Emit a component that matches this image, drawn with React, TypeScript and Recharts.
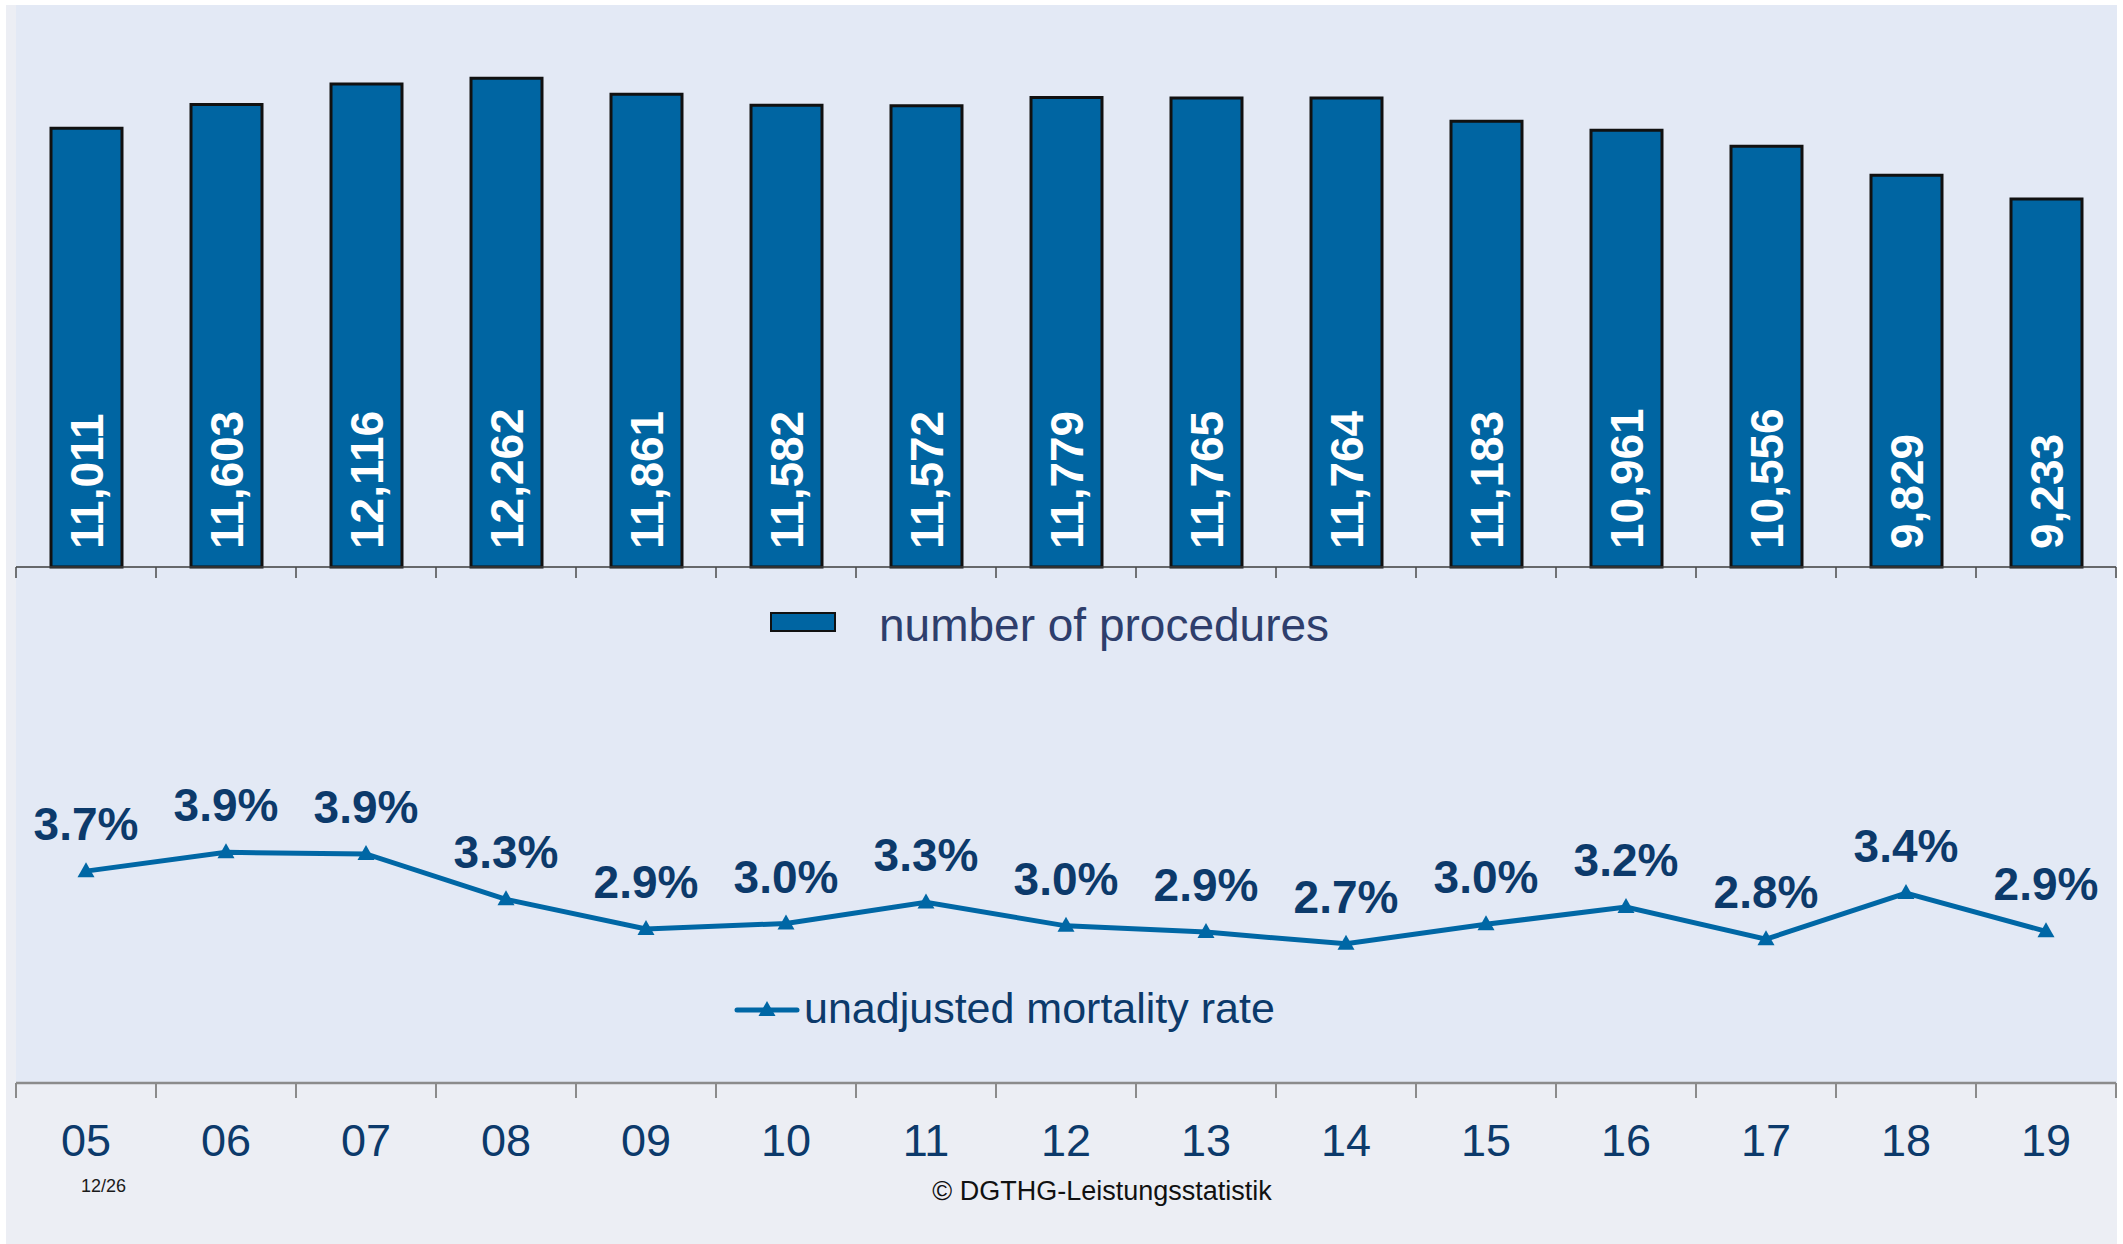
import React from 'react';
import { BarChart, Bar, LineChart, Line, XAxis, YAxis, LabelList, Legend } from 'recharts';

const years = ['05', '06', '07', '08', '09', '10', '11', '12', '13', '14', '15', '16', '17', '18', '19'];
const procedures = [11011, 11603, 12116, 12262, 11861, 11582, 11572, 11779, 11765, 11764, 11183, 10961, 10556, 9829, 9233];
const mortality = [3.66, 3.9, 3.88, 3.3, 2.92, 2.99, 3.26, 2.96, 2.88, 2.73, 2.98, 3.2, 2.79, 3.38, 2.89];

const chartData = years.map((year, i) => ({ year, procedures: procedures[i], mortality: mortality[i] }));

const W = 2123;
const LEFT = 16;
const RIGHT = 7;
const BAND = (W - LEFT - RIGHT) / years.length;
const FONT = '"Liberation Sans", Arial, sans-serif';
const BAR_BLUE = '#0065a2';
const LINE_BLUE = '#0067a5';
const NAVY = '#0c3a6b';

function BoundaryTick(props: any) {
  const { x, y, index, payload, len, color, width, showLabel } = props;
  const axisY = y - len;
  return (
    <g>
      <line x1={x - BAND / 2} x2={x - BAND / 2} y1={axisY} y2={axisY + len} stroke={color} strokeWidth={width} />
      {index === years.length - 1 && (
        <line x1={x + BAND / 2} x2={x + BAND / 2} y1={axisY} y2={axisY + len} stroke={color} strokeWidth={width} />
      )}
      {showLabel && (
        <text x={x} y={axisY + 73} textAnchor="middle" fontSize={45} fill={NAVY} fontFamily={FONT}>
          {payload.value}
        </text>
      )}
    </g>
  );
}

function TriangleDot(props: any) {
  const { cx, cy, index } = props;
  return <path key={`tri-${index}`} d={`M${cx},${cy - 9} L${cx + 8.5},${cy + 6} L${cx - 8.5},${cy + 6} Z`} fill={LINE_BLUE} />;
}

function BarValue(props: any) {
  const { x, y, width, height, value } = props;
  const tx = x + width / 2 + 16;
  const ty = y + height - 18;
  return (
    <text x={tx} y={ty} transform={`rotate(-90, ${tx}, ${ty})`} fill="#fff" fontSize={46} fontWeight="bold" fontFamily={FONT}>
      {Number(value).toLocaleString('en-US')}
    </text>
  );
}

function RateValue(props: any) {
  const { x, y, value } = props;
  return (
    <text x={x} y={y - 31} textAnchor="middle" fill={NAVY} fontSize={46} fontWeight="bold" fontFamily={FONT}>
      {`${Number(value).toFixed(1)}%`}
    </text>
  );
}

const ProceduresLegend = () => (
  <div style={{ position: 'relative', height: 50, width: W }}>
    <div style={{ position: 'absolute', left: 770, top: 12, width: 62, height: 16, border: '2px solid #111', background: BAR_BLUE }} />
    <span style={{ position: 'absolute', left: 879, top: 2, fontSize: 46, lineHeight: '46px', color: '#2e3e6c', fontFamily: FONT, whiteSpace: 'nowrap' }}>
      number of procedures
    </span>
  </div>
);

const RateLegend = () => (
  <div style={{ position: 'relative', height: 50, width: W }}>
    <svg style={{ position: 'absolute', left: 730, top: 0 }} width={80} height={50}>
      <line x1={7} x2={67} y1={30} y2={30} stroke={LINE_BLUE} strokeWidth={5} strokeLinecap="round" />
      <path d="M37,21 L45.5,36 L28.5,36 Z" fill={LINE_BLUE} />
    </svg>
    <span style={{ position: 'absolute', left: 804, top: 7, fontSize: 43, lineHeight: '43px', color: NAVY, fontFamily: FONT, whiteSpace: 'nowrap' }}>
      unadjusted mortality rate
    </span>
  </div>
);

export default function App() {
  return (
    <div style={{ position: 'absolute', left: 0, top: 0, width: W, height: 1244, background: '#fff', overflow: 'hidden' }}>
      <div style={{ position: 'absolute', left: 6, top: 5, width: 2111, height: 1239, background: '#eceef4' }} />
      <div style={{ position: 'absolute', left: 16, top: 5, width: 2101, height: 1078, background: '#e3e9f5' }} />

      <div style={{ position: 'absolute', left: 0, top: 0 }}>
        <BarChart width={W} height={660} data={chartData} margin={{ top: 9, right: RIGHT, left: LEFT, bottom: 73 }}>
          <XAxis
            dataKey="year"
            height={20}
            tickSize={11}
            tickMargin={0}
            interval={0}
            tickLine={false}
            axisLine={{ stroke: '#3c3c3c', strokeWidth: 1.5 }}
            tick={(p: any) => <BoundaryTick {...p} len={11} color="#4a4a4a" width={1.5} showLabel={false} />}
          />
          <YAxis hide domain={[0, 14000]} />
          <Legend verticalAlign="middle" align="center" layout="horizontal" wrapperStyle={{ top: 600, left: 0, width: W }} content={() => <ProceduresLegend />} />
          <Bar dataKey="procedures" name="number of procedures" fill={BAR_BLUE} stroke="#111" strokeWidth={3} barSize={71} isAnimationActive={false}>
            <LabelList dataKey="procedures" content={BarValue} />
          </Bar>
        </BarChart>
      </div>

      <div style={{ position: 'absolute', left: 0, top: 640 }}>
        <LineChart width={W} height={604} data={chartData} margin={{ top: 13, right: RIGHT, left: LEFT, bottom: 131 }}>
          <XAxis
            dataKey="year"
            height={30}
            padding={{ left: BAND / 2, right: BAND / 2 }}
            tickSize={15}
            tickMargin={0}
            interval={0}
            tickLine={false}
            axisLine={{ stroke: '#8b8b8b', strokeWidth: 2.5 }}
            tick={(p: any) => <BoundaryTick {...p} len={15} color="#8b8b8b" width={2} showLabel />}
          />
          <YAxis hide domain={[0.95, 6.45]} />
          <Legend verticalAlign="middle" align="center" layout="horizontal" wrapperStyle={{ top: 340, left: 0, width: W }} content={() => <RateLegend />} />
          <Line
            dataKey="mortality"
            name="unadjusted mortality rate"
            stroke={LINE_BLUE}
            strokeWidth={5}
            dot={TriangleDot}
            activeDot={false}
            isAnimationActive={false}
          >
            <LabelList dataKey="mortality" content={RateValue} />
          </Line>
        </LineChart>
      </div>

      <div style={{ position: 'absolute', left: 81, top: 1177, fontSize: 18, lineHeight: '18px', color: '#1a1a1a', fontFamily: FONT }}>12/26</div>
      <div style={{ position: 'absolute', left: 1102, top: 1178, transform: 'translateX(-50%)', fontSize: 27, lineHeight: '27px', color: '#111', fontFamily: FONT, whiteSpace: 'nowrap' }}>
        © DGTHG-Leistungsstatistik
      </div>
    </div>
  );
}
